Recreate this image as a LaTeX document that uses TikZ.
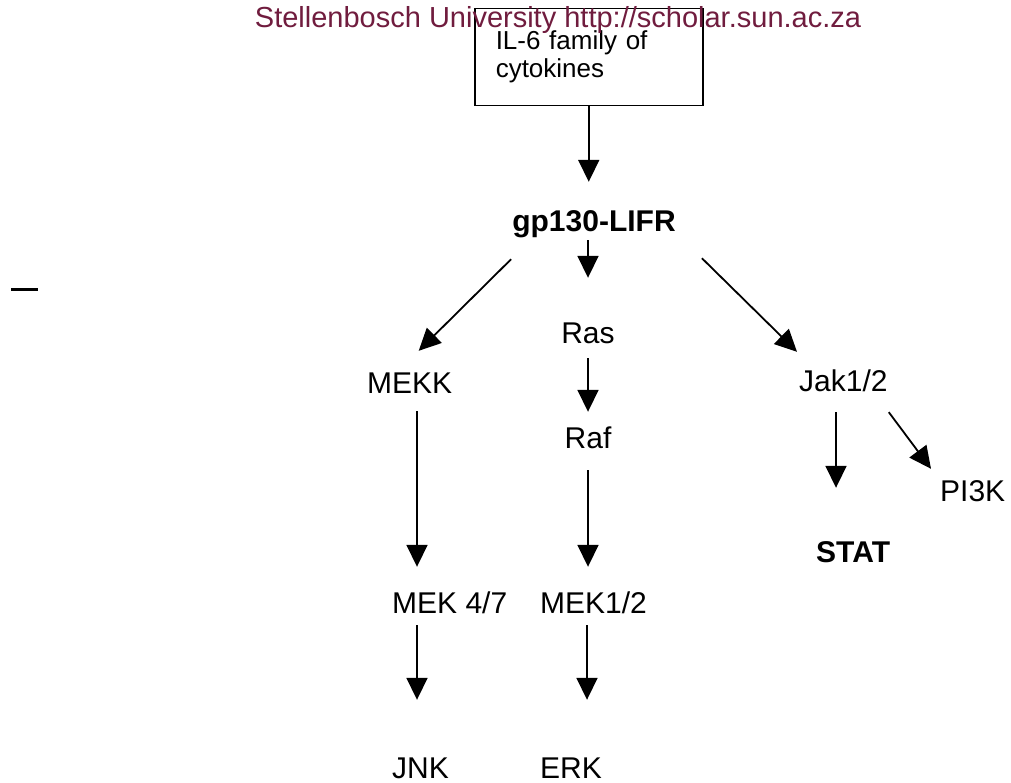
\documentclass[tikz,border=0pt]{standalone}
\usepackage{fontspec}
\setmainfont{Liberation Sans}
\usetikzlibrary{arrows.meta}
\definecolor{sunmaroon}{RGB}{112,28,62}
\begin{document}
\begin{tikzpicture}[x=1pt, y=-1pt,
    lbl/.style={inner sep=0pt, text height=23pt, text depth=7pt, font=\fontsize{30}{36}\selectfont},
    arr/.style={-{Triangle[width=21pt,length=22pt]}, line width=1.8pt}]
            \useasboundingbox (0,0) rectangle (1011,783);
            % Define the nodes
            \node[draw, line width=1.5pt, anchor=north west, minimum width=228pt, minimum height=97pt,
                  text width=186pt, inner xsep=21pt, align=left, font=\fontsize{26}{28}\selectfont] (il6) at (474,8) {IL-6 family of\\cytokines};
            \node[lbl, anchor=base, font=\fontsize{30}{36}\selectfont\bfseries] (gp130) at (594,232) {gp130-LIFR};
            \node[lbl, anchor=base] (ras) at (588,343) {Ras};
            \node[lbl, anchor=base] (raf) at (588,448) {Raf};
            \node[lbl, anchor=base west] (mekk) at (367,393) {MEKK};
            \node[lbl, anchor=base west] (jak) at (799,391) {Jak1/2};
            \node[lbl, anchor=base west] (mek47) at (392,613) {MEK 4/7};
            \node[lbl, anchor=base west] (mek12) at (540,613) {MEK1/2};
            \node[lbl, anchor=base west] (jnk) at (392,778) {JNK};
            \node[lbl, anchor=base west] (erk) at (540,778) {ERK};
            \node[lbl, anchor=base west, font=\fontsize{30}{36}\selectfont\bfseries] (stat) at (816,562) {STAT};
            \node[lbl, anchor=base west] (pi3k) at (940,501) {PI3K};

            % Draw the edges
            \draw[arr, shorten >=27pt] (il6.south) -- (il6.south |- gp130.north);
            \draw[arr, shorten <=1pt, shorten >=42pt] (ras |- gp130.south) -- (ras.north);
            \draw[arr, shorten <=8pt, shorten >=13pt] (ras.south) -- (raf.north);
            \draw[arr, shorten <=15pt, shorten >=23pt] (raf.south) -- ([xshift=48pt]mek12.north west);
            \draw[arr, shorten <=11pt, shorten >=23pt] ([xshift=50pt]mekk.south west) -- ([xshift=25pt]mek47.north west);
            \draw[arr, shorten <=5pt, shorten >=55pt] ([xshift=25pt]mek47.south west) -- ([xshift=25pt]jnk.north west);
            \draw[arr, shorten <=5pt, shorten >=55pt] ([xshift=47pt]mek12.south west) -- ([xshift=47pt]erk.north west);
            \draw[arr] ([shift={(-1,20)}]gp130.south west) -- ([shift={(9,-19)}]mekk.north);
            \draw[arr] ([shift={(26,19)}]gp130.south east) -- ([shift={(-2,-16)}]jak.north west);
            \draw[arr, shorten <=14pt, shorten >=51pt] ([xshift=37pt]jak.south west) -- ([xshift=37pt]jak.south west |- stat.north);
            \draw[arr] ([shift={(1,14)}]jak.south east) -- ([shift={(-9,-9)}]pi3k.north west);

            % stray mark at the left
            \draw[line width=3pt] (11,290) -- (38,290);

            % Add labels
            \node[anchor=base, text=sunmaroon, inner sep=0pt, font=\fontsize{29}{34}\selectfont] (wmark) at (558,28) {Stellenbosch University http://scholar.sun.ac.za};
\end{tikzpicture}
\end{document}
